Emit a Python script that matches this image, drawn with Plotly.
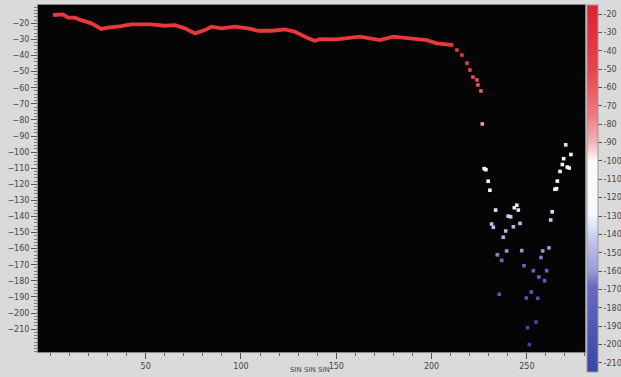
import plotly.graph_objects as go

# Red trace (continuous part)
line_x = [1.4, 6.6, 9.2, 12.7, 16.2, 21.5, 26.7, 30.2, 37.2, 42.4, 52.9, 60.0, 65.4, 70.6,
          75.9, 81.1, 84.6, 89.9, 96.9, 103.8, 109.1, 116.1, 123.1, 128.3, 135.3, 138.8,
          141.4, 150.2, 162.4, 172.9, 179.9, 188.7, 197.4, 202.7, 207.9, 211.4]
line_y = [-14.8, -14.4, -16.5, -16.5, -18.0, -20.0, -23.5, -22.7, -21.7, -20.6, -20.6, -21.5,
          -21.1, -23.1, -26.2, -24.2, -22.1, -23.1, -22.1, -23.1, -24.6, -24.6, -23.7, -25.2,
          -29.3, -30.8, -29.8, -29.9, -28.3, -30.4, -28.3, -29.3, -30.4, -32.4, -32.9, -33.5]

# Scattered points
pts_x = [213.3, 215.9, 218.6, 220.1, 221.7, 223.8, 224.3, 225.9,
         226.6, 227.6, 228.5, 229.7, 230.6, 233.6, 244.7, 243.4, 245.5, 240.2, 241.5,
         231.5, 232.4, 246.4, 242.9, 238.9, 237.6,
         270.4, 273.1, 269.3, 268.6, 271.2, 272.2, 267.4, 266.0, 264.7, 265.6, 263.3, 262.5,
         261.6, 258.3, 247.3, 239.4, 234.5, 236.8, 257.4, 248.5, 253.4, 260.4, 256.3, 259.3,
         235.5, 252.3, 249.7, 255.7, 254.8, 250.4, 251.3]
pts_y = [-36.6, -39.7, -44.7, -49.0, -53.4, -55.2, -58.3, -62.0,
         -82.5, -110.3, -110.9, -118.1, -123.7, -136.0, -133.0, -134.6, -136.0, -139.8, -140.2,
         -144.7, -146.7, -144.3, -146.4, -149.0, -152.9,
         -95.5, -101.5, -104.1, -107.7, -109.3, -109.9, -112.0, -118.0, -123.1, -122.7, -137.1, -142.2,
         -159.5, -161.4, -161.2, -161.4, -163.8, -167.3, -165.5, -170.6, -173.7, -173.7, -177.6, -179.9,
         -188.3, -186.9, -190.6, -190.8, -205.6, -209.1, -219.6]

y_ticks = list(range(-20, -211, -10))
x_ticks = [50, 100, 150, 200, 250]
x_title = 'SIN SIN SIN'

cmin, cmax = -215, -15
colorscale = [
    [0.0, '#3446a8'], [0.125, '#5058b8'], [0.235, '#6a6ac4'], [0.275, '#9a9ad8'],
    [0.36, '#c4c4ec'], [0.40, '#dde8f6'], [0.43, '#f6f8fc'], [0.575, '#fafafa'],
    [0.625, '#f4b4bc'], [0.70, '#ee7a80'], [0.825, '#e8444c'], [1.0, '#e02030']
]

fig = go.Figure()
fig.add_trace(go.Scatter(
    x=line_x, y=line_y, mode='lines',
    line=dict(color='#e8383c', width=3.8),
    hoverinfo='skip', showlegend=False))
fig.add_trace(go.Scatter(
    x=pts_x, y=pts_y, mode='markers',
    marker=dict(symbol='square', size=3.6, color=pts_y, colorscale=colorscale,
                cmin=cmin, cmax=cmax, line=dict(width=0),
                colorbar=dict(
                    x=1.0037, xanchor='left', xref='paper',
                    y=1, yanchor='top', len=367, lenmode='pixels',
                    xpad=0, ypad=0,
                    thickness=11, outlinewidth=1, outlinecolor='#999',
                    tickvals=y_ticks, ticktext=[str(v) for v in y_ticks],
                    ticks='outside', ticklen=4, tickcolor='#555',
                    tickfont=dict(family='DejaVu Sans', size=8, color='#444'),
                    bgcolor='rgba(0,0,0,0)')),
    showlegend=False))

fig.add_annotation(text=x_title, xref='x', x=136, yref='paper', y=0, yshift=-18,
                   yanchor='middle', showarrow=False,
                   font=dict(family='DejaVu Sans', size=7, color='#444'))

fig.update_layout(
    width=621, height=377,
    margin=dict(l=38, r=36, t=5, b=25, autoexpand=False),
    paper_bgcolor='#dadada',
    plot_bgcolor='#050505',
    xaxis=dict(range=[-6.5, 280.5], tickvals=x_ticks, ticks='outside', ticklen=6,
               tickcolor='#555', showgrid=False, zeroline=False,
               showline=True, linecolor='#888', linewidth=1, mirror=True,
               minor=dict(dtick=10, tick0=0, ticks='outside', ticklen=3, tickcolor='#666', showgrid=False),
               tickfont=dict(family='DejaVu Sans', size=8, color='#444')),
    yaxis=dict(range=[-224.2, -8.6], tickvals=y_ticks, ticks='outside', ticklen=6,
               tickcolor='#555', showgrid=False, zeroline=False,
               showline=True, linecolor='#888', linewidth=1, mirror=True,
               minor=dict(dtick=2, tick0=0, ticks='outside', ticklen=3, tickcolor='#777', showgrid=False),
               tickfont=dict(family='DejaVu Sans', size=8, color='#444')),
)

fig.write_html('out.html', config={'displayModeBar': False},
               post_script="document.body.style.margin='0';document.body.style.overflow='hidden';")
